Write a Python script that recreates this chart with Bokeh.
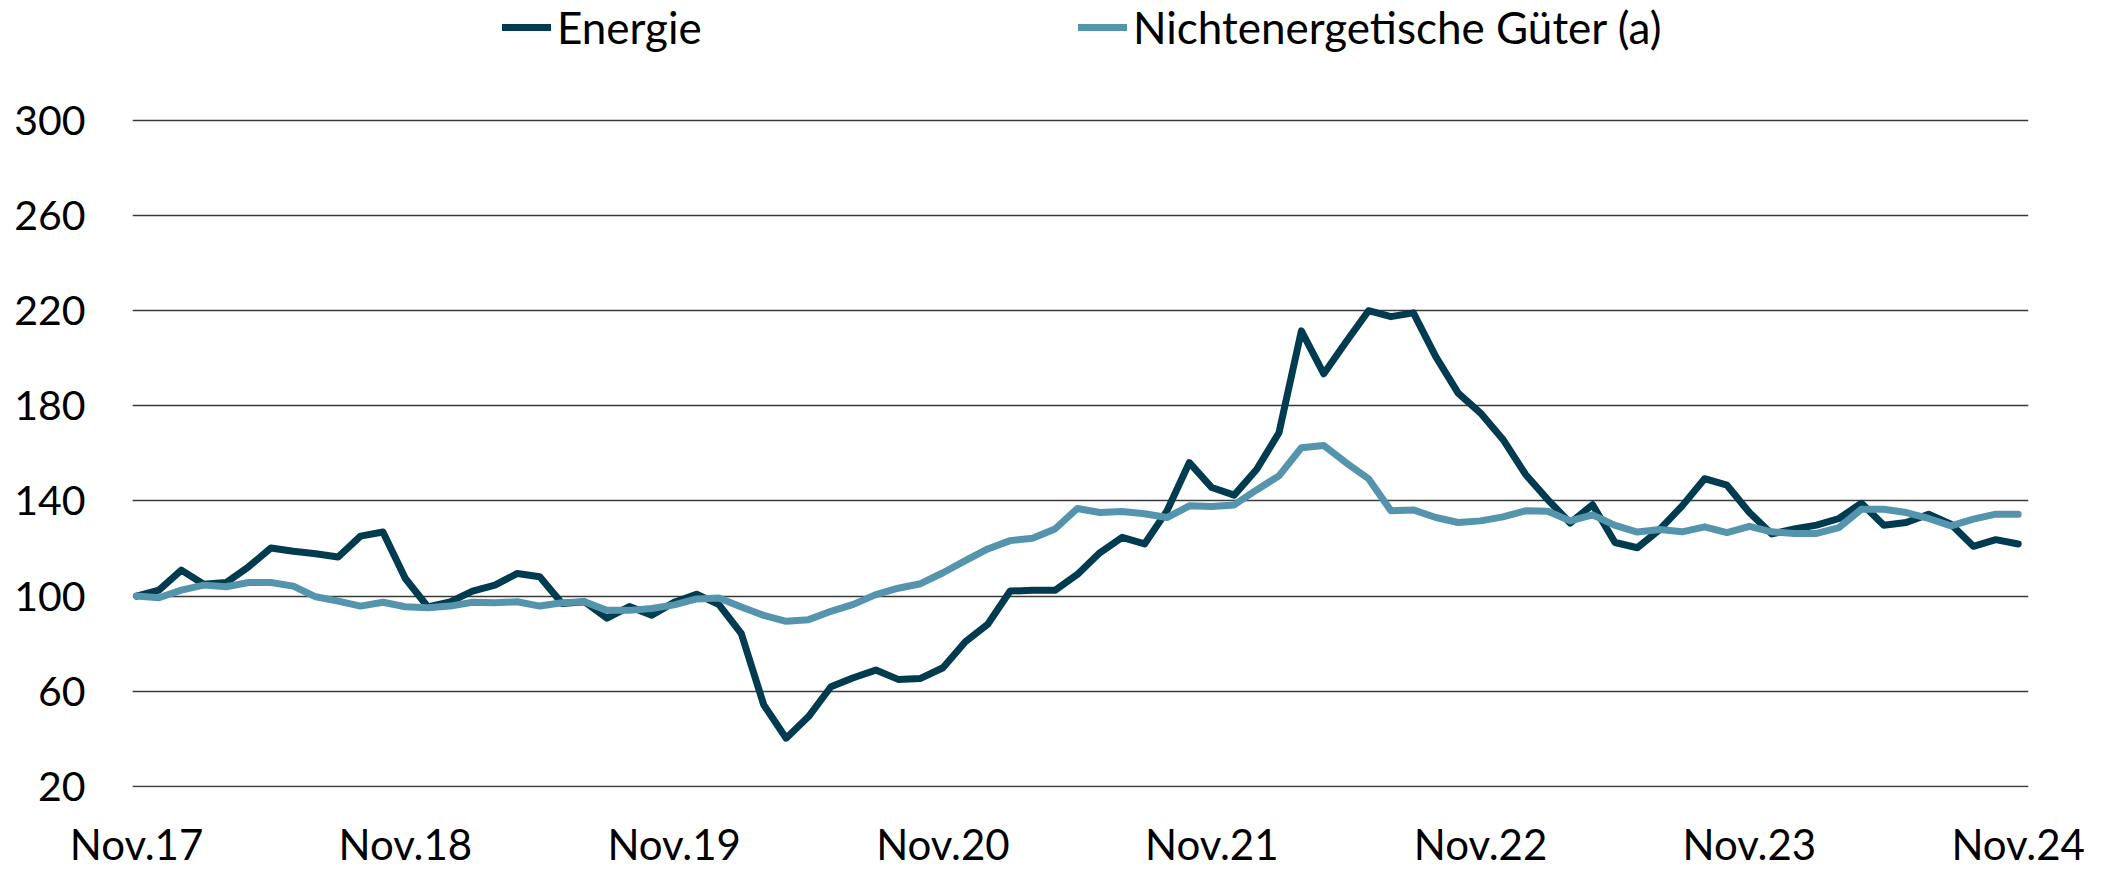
from bokeh.plotting import figure
from bokeh.models import Range1d, FixedTicker, Legend, LegendItem
from bokeh.embed import file_html
from bokeh.resources import INLINE

# ---- data -------------------------------------------------------------
tick_labels = ["Nov.17", "Nov.18", "Nov.19", "Nov.20", "Nov.21", "Nov.22", "Nov.23", "Nov.24"]
y_ticks = [20, 60, 100, 140, 180, 220, 260, 300]

energie = [
    100.0, 102.5, 110.9, 105.0, 105.7, 112.3, 120.2, 118.8, 117.8, 116.4,
    125.2, 126.9, 107.4, 95.5, 97.6, 102.1, 104.6, 109.5, 108.1, 96.9,
    97.6, 90.7, 95.6, 92.0, 97.4, 100.8, 96.4, 84.2, 54.3, 40.3,
    49.4, 61.9, 65.7, 68.9, 65.0, 65.4, 69.9, 80.8, 88.2, 102.1,
    102.4, 102.4, 109.1, 118.2, 124.7, 121.9, 135.8, 156.1, 145.6, 142.4,
    153.2, 168.6, 211.4, 193.4, 206.9, 219.9, 217.4, 219.0, 200.6, 185.3,
    176.9, 165.8, 151.2, 140.5, 130.7, 138.4, 122.5, 120.3, 128.0, 137.9,
    149.3, 146.6, 135.1, 126.1, 128.2, 129.8, 132.6, 139.0, 129.8, 130.9,
    134.4, 130.2, 120.9, 123.7, 121.9,
]
nichtenergetisch = [
    100.0, 99.3, 102.5, 104.6, 103.9, 105.7, 105.7, 104.2, 99.7, 97.9,
    95.8, 97.4, 95.5, 95.1, 95.8, 97.4, 97.2, 97.6, 95.8, 97.2,
    97.6, 94.0, 94.0, 94.8, 96.3, 98.8, 99.2, 95.4, 91.9, 89.4,
    90.1, 93.6, 96.5, 100.6, 103.3, 105.2, 109.8, 114.9, 119.8, 123.3,
    124.3, 128.2, 136.8, 135.1, 135.5, 134.6, 133.0, 137.9, 137.6, 138.3,
    144.6, 150.5, 162.3, 163.3, 156.0, 149.3, 135.8, 136.2, 133.0, 130.9,
    131.6, 133.3, 135.8, 135.6, 131.6, 134.1, 129.7, 126.9, 128.0, 127.0,
    129.1, 126.7, 129.3, 127.0, 126.3, 126.3, 128.8, 136.5, 136.5, 135.1,
    132.6, 129.5, 132.3, 134.4, 134.4,
]
months = list(range(len(energie)))
label_step = 12

FONT = "Lato"
C_EN = "#003B50"
C_NE = "#5594AD"

# frame spans the full height so the legend can sit inside it, at the top
p = figure(
    width=2113, height=871,
    output_backend="svg", toolbar_location=None,
    x_range=Range1d(-0.18, 84.46), y_range=Range1d(19.58, 350.22),
    min_border_left=132, min_border_right=85,
    min_border_top=0, min_border_bottom=81,
)
p.outline_line_color = None
p.background_fill_color = "white"
p.border_fill_color = "white"

# grid
p.xgrid.visible = False
p.ygrid.ticker = FixedTicker(ticks=y_ticks)
p.ygrid.grid_line_color = "#3a3a3a"
p.ygrid.grid_line_width = 1.4

# y axis
p.yaxis.ticker = FixedTicker(ticks=y_ticks)
p.yaxis.axis_line_color = None
p.yaxis.major_tick_line_color = None
p.yaxis.minor_tick_line_color = None
p.yaxis.major_tick_in = 0
p.yaxis.major_tick_out = 0
p.yaxis.major_label_standoff = 47
p.yaxis.major_label_text_font = FONT
p.yaxis.major_label_text_font_size = "41px"
p.yaxis.major_label_text_color = "black"

# x axis
xt = [i * label_step for i in range(len(tick_labels))]
p.xaxis.ticker = FixedTicker(ticks=xt)
p.xaxis.major_label_overrides = {t: lab for t, lab in zip(xt, tick_labels)}
p.xaxis.axis_line_color = None
p.xaxis.major_tick_line_color = None
p.xaxis.minor_tick_line_color = None
p.xaxis.major_tick_in = 0
p.xaxis.major_tick_out = 0
p.xaxis.major_label_standoff = 31
p.xaxis.major_label_text_font = FONT
p.xaxis.major_label_text_font_size = "42px"
p.xaxis.major_label_text_color = "black"

# lines
r_en = p.line(months, energie, line_width=7, line_color=C_EN,
              line_join="round", line_cap="round")
r_ne = p.line(months, nichtenergetisch, line_width=7, line_color=C_NE,
              line_join="round", line_cap="round")

def make_legend(label, renderer, x):
    return Legend(
        items=[LegendItem(label=label, renderers=[renderer])],
        location=(x, 734), orientation="horizontal",
        padding=0, margin=0, spacing=0,
        glyph_width=49, glyph_height=50, label_height=50,
        label_standoff=6,
        border_line_color=None, background_fill_alpha=0,
        label_text_font=FONT, label_text_font_size="44px",
        label_text_color="black",
    )

p.add_layout(make_legend("Energie", r_en, 370))
p.add_layout(make_legend("Nichtenergetische Güter (a)", r_ne, 946))

open("out.html", "w").write(file_html(p, INLINE))
